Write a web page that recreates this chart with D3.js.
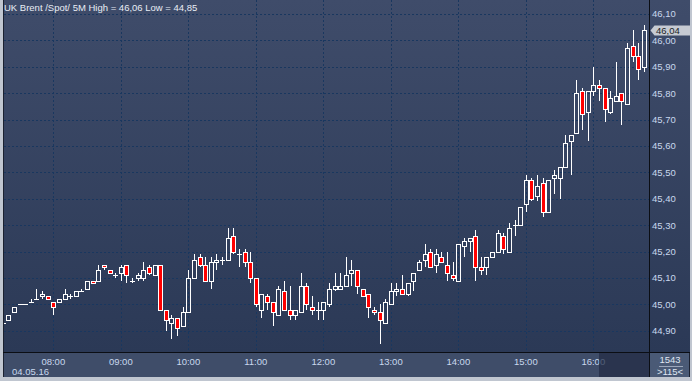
<!DOCTYPE html>
<html>
<head>
<meta charset="utf-8">
<script src="https://cdn.jsdelivr.net/npm/d3@7"></script>
<style>
  body { margin: 0; background: #c0c6d0; }
  svg { display: block; font-family: "Liberation Sans", Arial, sans-serif; }
</style>
</head>
<body>
<div id="chart"></div>
<script>
// 5 minute candles, UK Brent spot, 04.05.16 from 07:15
const startTime = new Date(2016, 4, 4, 7, 15);
const stepMinutes = 5;

const opens = [44.93,44.94,44.97,45.00,45.00,45.01,45.02,45.03,45.03,45.01,
  45.01,45.02,45.03,45.03,45.05,45.06,45.09,45.09,45.15,45.13,
  45.11,45.12,45.15,45.09,45.10,45.10,45.14,45.11,45.15,44.98,
  44.93,44.95,44.92,44.97,45.10,45.18,45.15,45.09,45.16,45.17,
  45.17,45.26,45.19,45.20,45.16,45.10,44.98,45.03,45.01,44.96,
  45.05,44.98,44.96,44.97,45.07,44.99,44.98,44.98,45.00,45.06,
  45.06,45.07,45.12,45.13,45.06,45.04,44.98,44.97,44.93,45.00,
  45.05,45.06,45.04,45.09,45.13,45.17,45.20,45.15,45.18,45.15,
  45.11,45.09,45.22,45.24,45.26,45.14,45.14,45.18,45.20,45.26,
  45.20,45.30,45.30,45.38,45.47,45.41,45.46,45.35,45.48,45.48,
  45.52,45.62,45.65,45.81,45.73,45.81,45.83,45.82,45.73,45.77,
  45.80,45.76,45.98,45.94,45.90];
const highs = [44.93,44.96,44.99,45.00,45.00,45.02,45.06,45.05,45.03,45.01,
  45.02,45.06,45.04,45.05,45.06,45.09,45.09,45.15,45.15,45.13,
  45.12,45.15,45.15,45.10,45.12,45.16,45.15,45.15,45.15,44.98,
  44.96,44.95,44.99,45.13,45.19,45.19,45.18,45.18,45.19,45.18,
  45.29,45.29,45.21,45.21,45.20,45.10,45.04,45.04,45.01,45.07,
  45.09,45.07,44.98,45.12,45.08,45.03,45.01,45.01,45.08,45.12,
  45.12,45.18,45.17,45.13,45.06,45.04,44.99,45.00,45.02,45.08,
  45.08,45.11,45.08,45.12,45.17,45.23,45.21,45.21,45.20,45.20,
  45.16,45.23,45.25,45.25,45.28,45.18,45.18,45.20,45.28,45.27,
  45.31,45.32,45.37,45.49,45.48,45.49,45.48,45.47,45.51,45.52,
  45.64,45.64,45.85,45.82,45.81,45.90,45.85,45.82,45.81,45.92,
  45.80,45.99,46.04,45.99,46.06];
const lows = [44.93,44.94,44.97,45.00,45.00,45.01,45.02,45.02,45.02,44.96,
  45.01,45.02,45.02,45.03,45.05,45.06,45.08,45.09,45.13,45.12,
  45.10,45.09,45.08,45.08,45.09,45.09,45.11,45.11,44.98,44.90,
  44.87,44.88,44.92,44.97,45.10,45.14,45.09,45.06,45.13,45.15,
  45.17,45.19,45.14,45.14,45.08,44.99,44.95,44.98,44.92,44.96,
  44.98,44.94,44.94,44.97,44.98,44.96,44.94,44.94,44.99,45.05,
  45.06,45.07,45.07,45.04,45.03,44.95,44.96,44.85,44.93,45.00,
  45.03,45.04,45.03,45.05,45.13,45.14,45.14,45.12,45.16,45.09,
  45.09,45.09,45.18,45.20,45.09,45.11,45.11,45.18,45.20,45.19,
  45.20,45.26,45.30,45.35,45.39,45.39,45.33,45.35,45.42,45.40,
  45.52,45.49,45.65,45.66,45.62,45.79,45.77,45.69,45.72,45.77,
  45.68,45.76,45.92,45.85,45.88];
const closes = [44.93,44.96,44.99,45.00,45.00,45.01,45.02,45.04,45.02,44.99,
  45.02,45.04,45.03,45.05,45.05,45.09,45.08,45.13,45.14,45.12,
  45.11,45.14,45.11,45.09,45.11,45.13,45.12,45.15,44.98,44.94,
  44.95,44.91,44.97,45.10,45.17,45.15,45.09,45.16,45.17,45.17,
  45.25,45.20,45.19,45.16,45.10,45.00,45.04,45.01,44.97,45.06,
  44.98,44.96,44.98,45.07,45.00,44.98,44.98,45.01,45.06,45.07,
  45.07,45.11,45.13,45.07,45.03,44.99,44.97,44.94,45.01,45.05,
  45.06,45.04,45.08,45.12,45.16,45.19,45.14,45.19,45.16,45.12,
  45.10,45.23,45.24,45.25,45.14,45.13,45.18,45.20,45.27,45.21,
  45.29,45.30,45.37,45.47,45.40,45.45,45.35,45.47,45.49,45.52,
  45.61,45.64,45.80,45.72,45.81,45.83,45.82,45.74,45.78,45.79,
  45.77,45.97,45.94,45.89,46.04];

const priceTicks = [44.9,45.0,45.1,45.2,45.3,45.4,45.5,45.6,45.7,45.8,45.9,46.0,46.1];
const timeTicks = ["08:00","09:00","10:00","11:00","12:00","13:00","14:00","15:00","16:00"];
const titleText = "UK Brent /Spot/ 5M High = 46,06 Low = 44,85";
const dateLabel = "04.05.16";
const lastPrice = 46.04;
const barCount = "1543";
const visibleLabel = ">115<";

const W = 692, H = 381;
const plot = { left: 4, right: 649, top: 0, bottom: 352 };

const svg = d3.select("#chart").append("svg").attr("width", W).attr("height", H);

const defs = svg.append("defs");
const grad = defs.append("linearGradient").attr("id", "bg").attr("x1", 0).attr("x2", 0).attr("y1", 0).attr("y2", 1);
grad.append("stop").attr("offset", "0%").attr("stop-color", "#3f4c6a");
grad.append("stop").attr("offset", "100%").attr("stop-color", "#2b3956");
defs.append("clipPath").attr("id", "clip").append("rect")
  .attr("x", plot.left).attr("y", plot.top)
  .attr("width", plot.right - plot.left).attr("height", plot.bottom - plot.top);

// frame
svg.append("rect").attr("width", W).attr("height", H).attr("fill", "#c0c6d0");
svg.append("rect").attr("x", 3).attr("y", 0).attr("width", 687).attr("height", 377).attr("fill", "#1b2130");
svg.append("rect").attr("x", plot.left).attr("y", 0).attr("width", 686).attr("height", plot.bottom).attr("fill", "url(#bg)");
// x axis strip
svg.append("rect").attr("x", plot.left).attr("y", plot.bottom + 1).attr("width", plot.right - plot.left).attr("height", 24).attr("fill", "#3f4d69");
svg.append("rect").attr("x", 599).attr("y", plot.bottom + 1).attr("width", plot.right - 599).attr("height", 24).attr("fill", "#29344d").attr("opacity", 0.85);
svg.append("rect").attr("x", plot.right + 1).attr("y", plot.bottom + 1).attr("width", 39).attr("height", 24).attr("fill", "#4a5a76");

const x = d3.scaleTime()
  .domain([new Date(2016, 4, 4, 8, 0), new Date(2016, 4, 4, 16, 0)])
  .range([53.3, 593.3]);
const y = d3.scaleLinear().domain([44.9, 46.1]).range([330.8, 14]);

const parseHM = d3.timeParse("%H:%M");
const tickDate = s => {
  const p = parseHM(s);
  return new Date(2016, 4, 4, p.getHours(), p.getMinutes());
};
const fmtPrice = d => d3.format(".2f")(d).replace(".", ",");

// grid
const grid = svg.append("g").attr("stroke", "#19375f").attr("stroke-dasharray", "2,2").attr("stroke-width", 1);
grid.selectAll(".hg").data(priceTicks).enter().append("line")
  .attr("x1", plot.left).attr("x2", plot.right)
  .attr("y1", d => Math.round(y(d)) + 0.5).attr("y2", d => Math.round(y(d)) + 0.5);
grid.selectAll(".vg").data(timeTicks).enter().append("line")
  .attr("x1", d => Math.round(x(tickDate(d))) + 0.5).attr("x2", d => Math.round(x(tickDate(d))) + 0.5)
  .attr("y1", 0).attr("y2", plot.bottom);

// candles
const candles = opens.map((o, i) => ({
  t: d3.timeMinute.offset(startTime, i * stepMinutes),
  o: o, h: highs[i], l: lows[i], c: closes[i]
}));

const cg = svg.append("g").attr("clip-path", "url(#clip)");
const bars = cg.selectAll("g.candle").data(candles).enter().append("g").attr("class", "candle");

bars.each(function (d) {
  const g = d3.select(this);
  const cx = Math.round(x(d.t)) + 0.5;
  const top = Math.round(y(Math.max(d.o, d.c))) + 0.5;
  const bot = Math.round(y(Math.min(d.o, d.c))) + 0.5;
  const yh = Math.round(y(d.h));
  const yl = Math.round(y(d.l));
  if (yh < top) g.append("line").attr("x1", cx).attr("x2", cx).attr("y1", yh).attr("y2", top).attr("stroke", "#fff");
  if (yl > bot) g.append("line").attr("x1", cx).attr("x2", cx).attr("y1", bot).attr("y2", yl).attr("stroke", "#fff");
  if (top === bot) {
    g.append("line").attr("x1", cx - 2.5).attr("x2", cx + 2.5).attr("y1", top).attr("y2", top).attr("stroke", "#fff");
  } else {
    g.append("rect")
      .attr("x", cx - 2).attr("y", top)
      .attr("width", 4).attr("height", bot - top)
      .attr("fill", d.c < d.o ? "#ff0000" : "none")
      .attr("stroke", "#fff").attr("stroke-width", 1);
  }
});

// dividers
svg.append("line").attr("x1", 3).attr("x2", 690).attr("y1", plot.bottom + 0.5).attr("y2", plot.bottom + 0.5).attr("stroke", "#0b0e14");
svg.append("line").attr("x1", plot.right + 0.5).attr("x2", plot.right + 0.5).attr("y1", 0).attr("y2", 377).attr("stroke", "#0b0e14");

// price axis labels
svg.append("g").selectAll("text").data(priceTicks).enter().append("text")
  .attr("x", 652).attr("y", d => y(d))
  .attr("dy", "0.35em")
  .attr("fill", "#c9d8ee").style("font-size", "9.5px")
  .text(fmtPrice);

// current price tag
const yl0 = Math.round(y(lastPrice)) + 0.5;
svg.append("path")
  .attr("d", `M650.5,${yl0} L654.5,${yl0 - 5} L690,${yl0 - 5} L690,${yl0 + 5} L654.5,${yl0 + 5} Z`)
  .attr("fill", "#c6cad2");
svg.append("text").attr("x", 656).attr("y", yl0).attr("dy", "0.35em")
  .attr("fill", "#1c1f26").style("font-size", "9.5px").text(fmtPrice(lastPrice));

// time axis labels
svg.append("g").selectAll("text").data(timeTicks).enter().append("text")
  .attr("x", d => x(tickDate(d))).attr("y", 365)
  .attr("text-anchor", "middle")
  .attr("fill", "#c9d8ee").style("font-size", "9.5px")
  .text(d => d);
svg.append("rect").attr("x", 599).attr("y", plot.bottom + 1).attr("width", plot.right - 599).attr("height", 24).attr("fill", "#29344d").attr("opacity", 0.75);

svg.append("text").attr("x", 12).attr("y", 375).attr("fill", "#c9d8ee").style("font-size", "9.5px").text(dateLabel);

// bottom right box
svg.append("text").attr("x", 670).attr("y", 363).attr("text-anchor", "middle").attr("fill", "#dfe6f2").style("font-size", "9.5px").text(barCount);
svg.append("line").attr("x1", 659).attr("x2", 683).attr("y1", 366.5).attr("y2", 366.5).attr("stroke", "#9aa6ba");
svg.append("text").attr("x", 670).attr("y", 375).attr("text-anchor", "middle").attr("fill", "#dfe6f2").style("font-size", "9.5px").text(visibleLabel);

// title
svg.append("text").attr("x", 4).attr("y", 11).attr("fill", "#e8edf5").style("font-size", "9.5px").text(titleText);
</script>
</body>
</html>
